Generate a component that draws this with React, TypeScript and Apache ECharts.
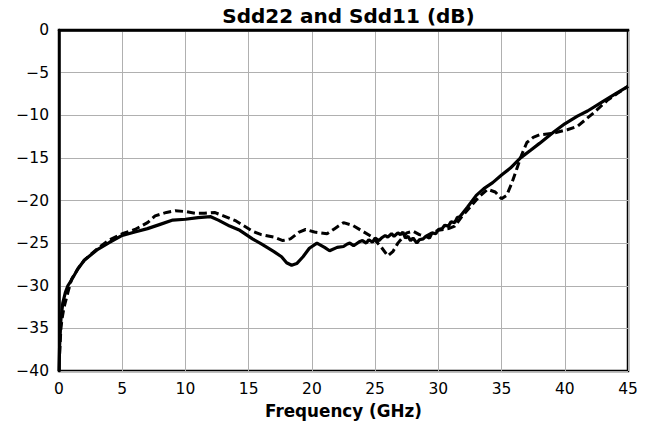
import React, { useEffect, useRef } from "react";
import * as echarts from "echarts";

const xTicks = [0, 5, 10, 15, 20, 25, 30, 35, 40, 45];
const yTicks = [-40, -35, -30, -25, -20, -15, -10, -5, 0];

const solidFreq = [0, 0.05, 0.15, 0.3, 0.5, 0.7, 1.0, 1.5, 2.0, 3.0, 4.0, 5.0, 6.0, 7.0, 8.0, 9.0, 10.0, 11.0, 12.0, 12.6, 13.5, 14.3, 15.3, 16.0, 17.0, 17.6, 18.0, 18.4, 18.8, 19.3, 19.8, 20.4, 21.0, 21.4, 22.0, 22.5, 22.8, 23.0, 23.3, 23.5, 23.8, 24.0, 24.3, 24.5, 24.8, 25.0, 25.3, 25.5, 25.8, 26.0, 26.3, 26.5, 26.8, 27.0, 27.2, 27.4, 27.6, 27.8, 28.0, 28.3, 28.5, 28.8, 29.0, 29.3, 29.5, 29.8, 30.0, 30.3, 30.5, 30.8, 31.0, 31.3, 31.5, 31.7, 32.3, 33.0, 33.6, 34.3, 35.0, 35.7, 36.5, 37.3, 38.0, 39.1, 40.0, 41.0, 41.8, 43.0, 44.0, 45.0];
const solidDb = [-40, -37, -34, -32, -30.8, -30, -29.3, -28, -27, -25.8, -24.9, -24.1, -23.7, -23.3, -22.8, -22.3, -22.2, -22.0, -21.9, -22.3, -23.0, -23.5, -24.5, -25.1, -26.0, -26.6, -27.3, -27.6, -27.4, -26.6, -25.6, -25.0, -25.5, -25.9, -25.5, -25.4, -25.1, -25.0, -25.3, -25.1, -24.8, -24.7, -25.0, -24.6, -24.9, -24.4, -24.7, -24.4, -24.1, -24.3, -23.9, -24.2, -23.8, -24.0, -23.7, -24.4, -24.2, -24.7, -24.4, -25.0, -24.6, -24.5, -24.2, -24.4, -23.8, -23.9, -23.4, -23.3, -22.9, -23.0, -22.5, -22.6, -22.0, -21.9, -20.8, -19.4, -18.6, -17.9, -17.0, -16.2, -15.0, -14.1, -13.3, -12.0, -11.0, -10.1, -9.5, -8.4, -7.5, -6.6];

const dashedFreq = [0.05, 0.15, 0.25, 0.4, 0.7, 1.0, 1.5, 2, 3, 4, 5, 6, 7, 7.6, 8.5, 9.2, 10, 10.8, 11.5, 12.3, 13, 14, 15.3, 16, 17, 17.7, 18.3, 19, 19.5, 20.2, 21.2, 21.8, 22.5, 23.2, 24, 24.8, 25.5, 26, 26.4, 26.8, 27.5, 28, 28.5, 29, 29.5, 30, 30.8, 31.3, 31.8, 32.5, 33.2, 33.9, 34.5, 35, 35.4, 35.8, 36.2, 36.6, 37, 37.5, 38, 39.1, 40.2, 41, 42.3, 43.4, 44.2, 45];
const dashedDb = [-38, -35, -33.8, -32.5, -30.8, -29.2, -28, -27, -25.7, -24.6, -23.9, -23.4, -22.6, -21.8, -21.4, -21.2, -21.3, -21.5, -21.5, -21.4, -21.8, -22.4, -23.6, -24.0, -24.3, -24.7, -24.5, -23.7, -23.4, -23.7, -23.9, -23.3, -22.6, -22.9, -23.6, -24.3, -25.5, -26.5, -26.0, -25.0, -23.8, -23.6, -24.0, -24.2, -23.8, -23.5, -23.3, -23.0, -22.0, -20.8, -19.6, -18.7, -19.0, -19.8, -19.4, -18.0, -16.3, -14.6, -13.2, -12.6, -12.3, -12.1, -11.7, -11.3, -9.7, -8.2, -7.4, -6.6];

const FONT = "DejaVu Sans";

export default function App() {
  const ref = useRef<HTMLDivElement>(null);
  useEffect(() => {
    if (!ref.current) return;
    const chart = echarts.init(ref.current, null, { renderer: "svg" });
    const solid = solidFreq.map((f, i) => [f, solidDb[i]]);
    const dashed = dashedFreq.map((f, i) => [f, dashedDb[i]]);
    chart.setOption({
      animation: false,
      backgroundColor: "#ffffff",
      title: {
        text: "Sdd22 and Sdd11 (dB)",
        left: 343.5,
        top: 1,
        textAlign: "center",
        textStyle: { fontFamily: FONT, fontWeight: "bold", fontSize: 20, color: "#000" },
      },
      grid: {
        left: 59,
        right: 24,
        top: 30,
        bottom: 53,
        show: true,
        borderColor: "#000",
        borderWidth: 2.5,
        backgroundColor: "transparent",
      },
      xAxis: {
        type: "value",
        min: xTicks[0],
        max: xTicks[xTicks.length - 1],
        interval: 5,
        name: "Frequency (GHz)",
        nameLocation: "middle",
        nameGap: 31,
        nameTextStyle: { fontFamily: FONT, fontWeight: "bold", fontSize: 16.8, color: "#000" },
        axisLine: { show: true, lineStyle: { color: "#000", width: 2.5 } },
        axisTick: { show: false },
        axisLabel: { fontFamily: FONT, fontSize: 15.5, color: "#000", margin: 10 },
        splitLine: { show: true, lineStyle: { color: "#b0b0b0", width: 1 } },
      },
      yAxis: {
        type: "value",
        min: yTicks[0],
        max: yTicks[yTicks.length - 1],
        interval: 5,
        axisLine: { show: true, lineStyle: { color: "#000", width: 2.5 } },
        axisTick: { show: false },
        axisLabel: {
          fontFamily: FONT,
          fontSize: 15.5,
          color: "#000",
          margin: 10,
          formatter: (v: number) => (v < 0 ? "\u2212" + Math.abs(v) : String(v)),
        },
        splitLine: { show: true, lineStyle: { color: "#b0b0b0", width: 1 } },
      },
      series: [
        {
          name: "Sdd11",
          type: "line",
          data: dashed,
          showSymbol: false,
          symbol: "none",
          lineStyle: { color: "#000", width: 3, type: [8, 4] },
          z: 2,
        },
        {
          name: "Sdd22",
          type: "line",
          data: solid,
          showSymbol: false,
          symbol: "none",
          lineStyle: { color: "#000", width: 3.2 },
          z: 3,
        },
      ],
    });
    return () => chart.dispose();
  }, []);
  return (
    <div
      ref={ref}
      style={{ position: "fixed", left: 0, top: 0, width: 652, height: 424, background: "#fff" }}
    />
  );
}
